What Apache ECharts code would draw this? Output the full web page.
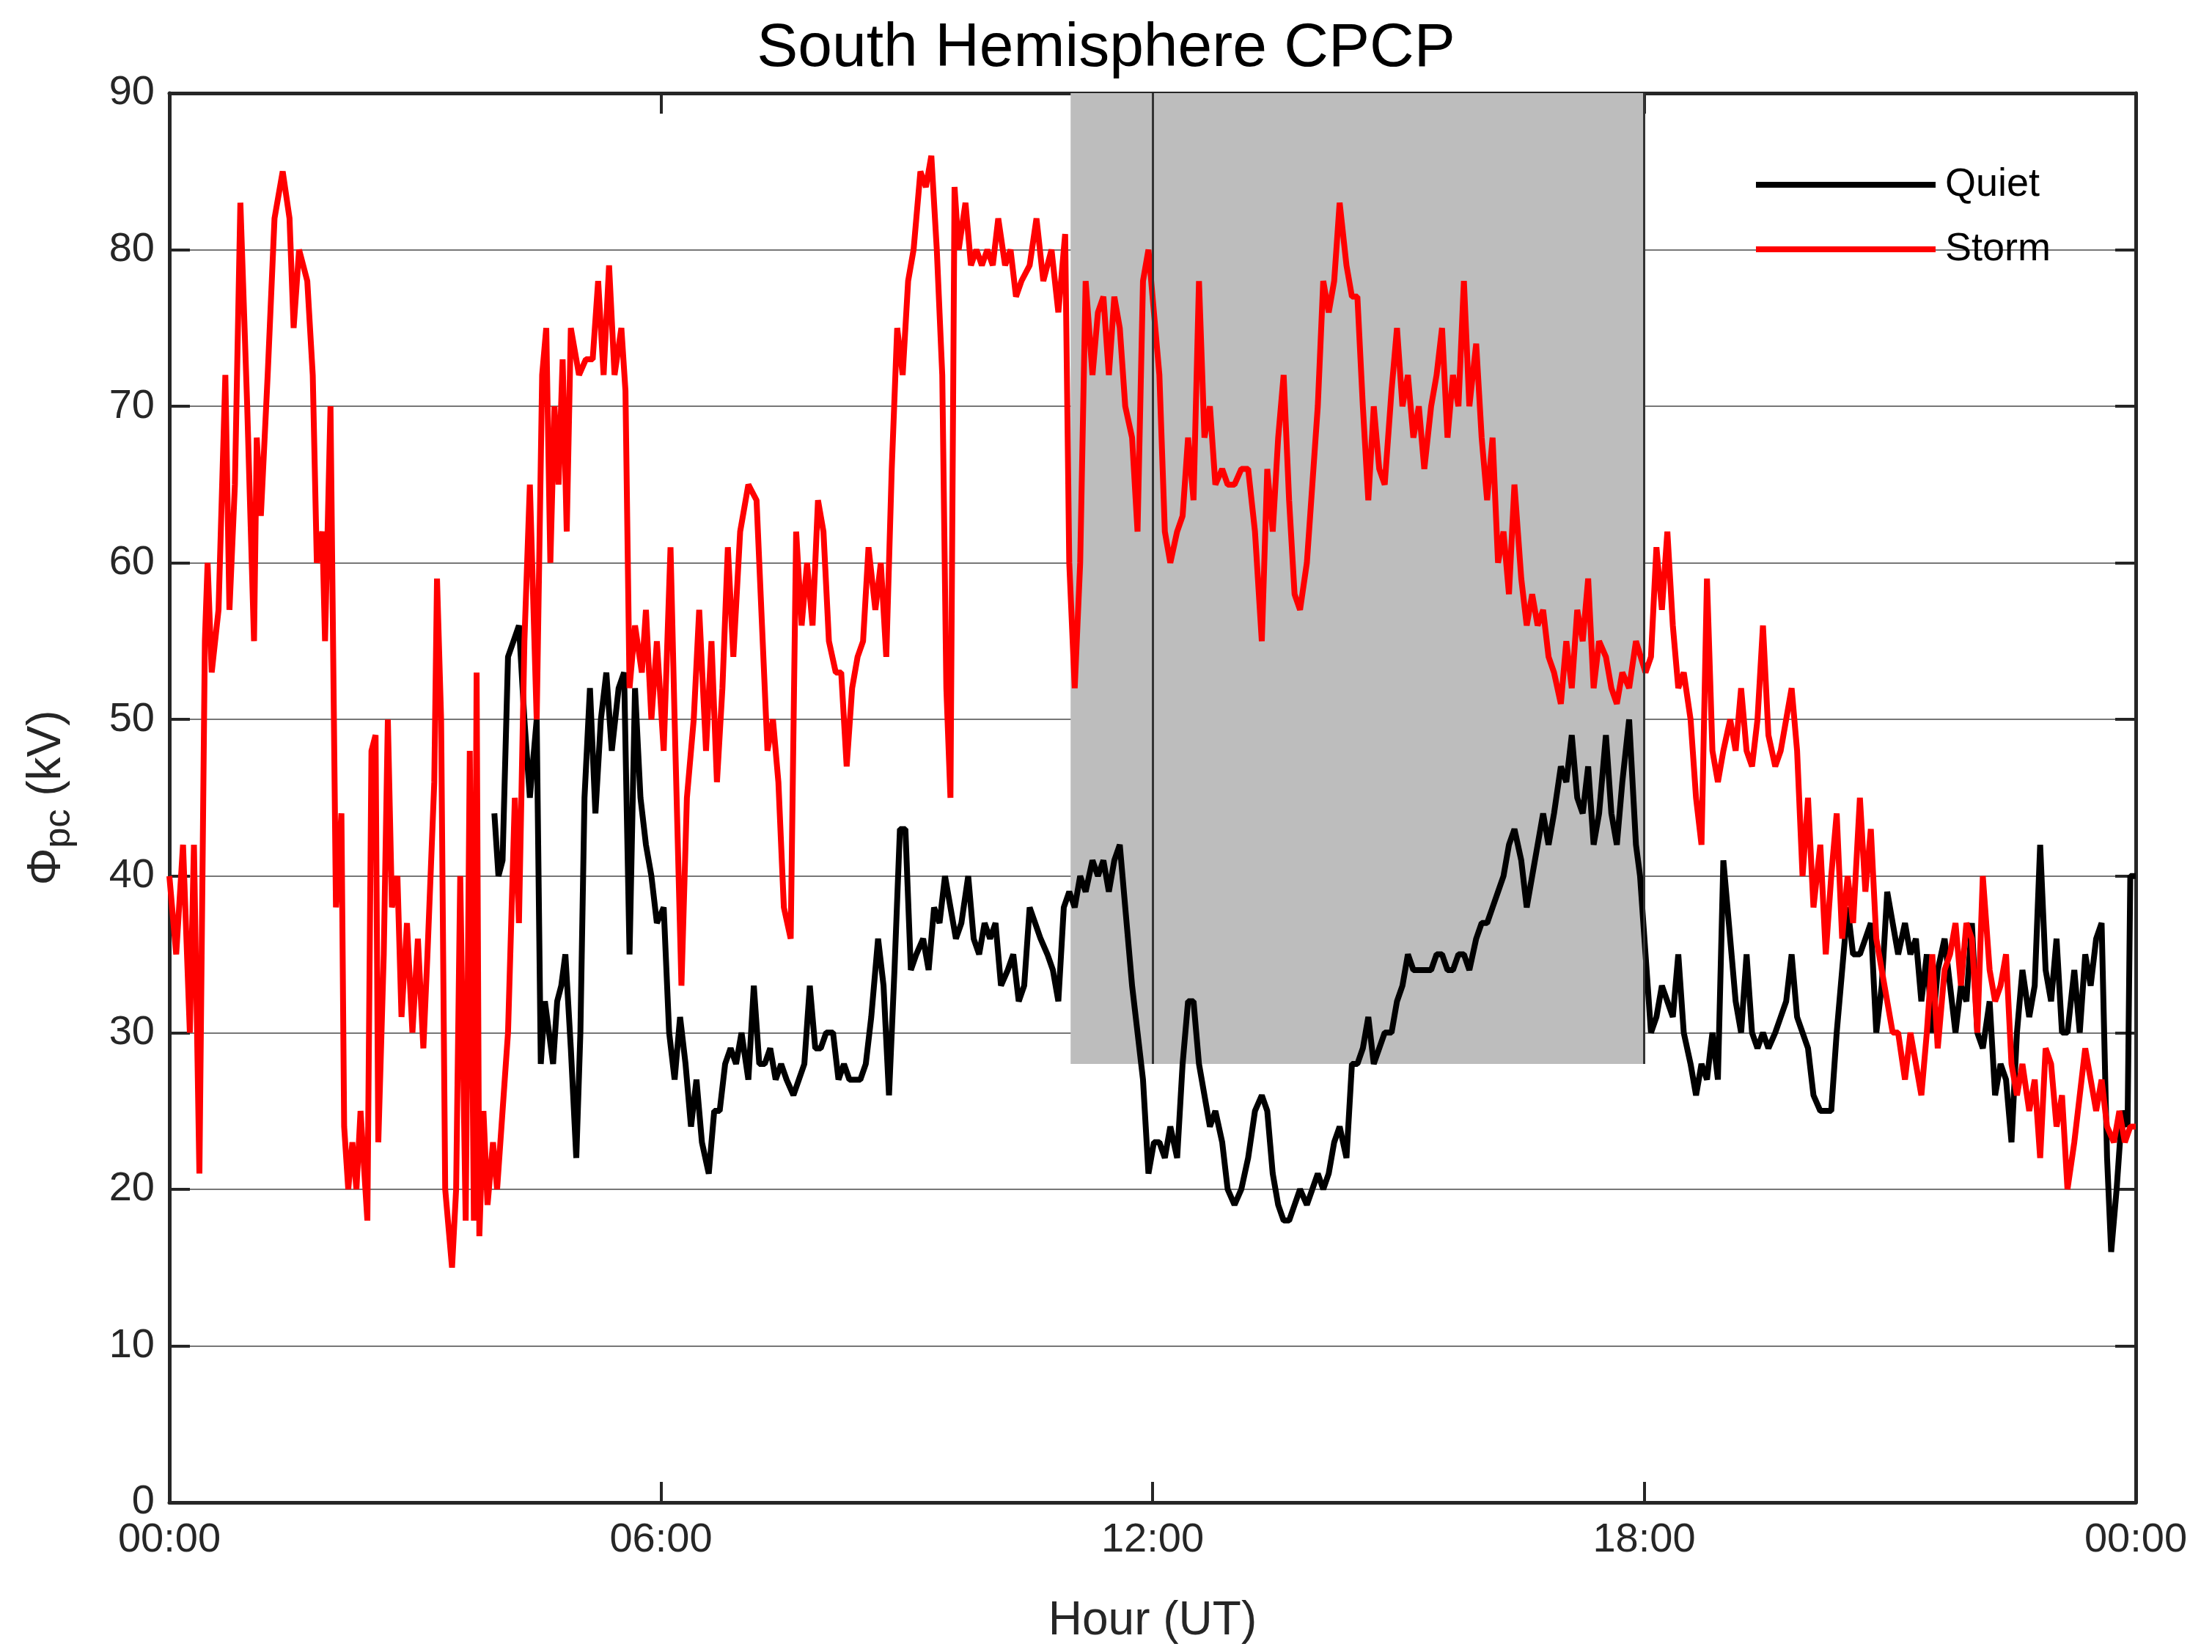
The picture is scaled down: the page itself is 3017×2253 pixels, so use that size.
<!DOCTYPE html>
<html><head><meta charset="utf-8">
<script src="https://cdn.jsdelivr.net/npm/echarts@6/dist/echarts.min.js"></script>
<style>html,body{margin:0;background:#fff}#c{width:3017px;height:2253px}</style>
</head><body><div id="c"></div>
<script>
const xTicks = [0, 360, 720, 1080, 1440];
const xTickLabels = ['00:00', '06:00', '12:00', '18:00', '00:00'];
const shadeStart = 660, shadeEnd = 1080, shadeBottom = 28;
const markLinesAt = [720, 1080];
const stormData = [[0,40],[5,35],[10,42],[15,30],[18,42],[22,21],[26,55],[28,60],[31,53],[36,57],[41,72],[44,57],[48,65],[52,83],[57,70],[62,55],[64,68],[67,63],[72,72],[77,82],[83,85],[88,82],[91,75],[95,80],[101,78],[105,72],[108,60],[112,62],[114,55],[118,70],[122,38],[126,44],[128,24],[131,20],[134,23],[137,20],[140,25],[145,18],[148,48],[151,49],[153,23],[157,35],[160,50],[163,38],[167,40],[170,31],[174,37],[178,30],[182,36],[186,29],[189,35],[194,46],[196,59],[199,50],[202,20],[207,15],[210,20],[213,40],[217,18],[220,48],[223,18],[225,53],[227,17],[230,25],[233,19],[237,23],[240,20],[244,25],[248,30],[253,45],[256,37],[260,55],[264,65],[269,50],[273,72],[276,75],[279,60],[282,70],[285,65],[288,73],[291,62],[294,75],[300,72],[305,73],[310,73],[314,78],[318,72],[322,79],[326,72],[331,75],[334,71],[337,52],[341,56],[346,53],[349,57],[353,50],[357,55],[362,48],[367,61],[370,50],[375,33],[379,45],[384,50],[388,57],[393,48],[397,55],[401,46],[405,52],[409,61],[413,54],[418,62],[424,65],[430,64],[434,56],[438,48],[442,50],[446,46],[450,38],[455,36],[459,62],[463,56],[467,60],[471,56],[475,64],[479,62],[483,55],[488,53],[492,53],[496,47],[500,52],[504,54],[508,55],[512,61],[517,57],[521,60],[525,54],[529,66],[533,75],[537,72],[541,78],[545,80],[550,85],[554,84],[558,86],[562,80],[566,72],[569,52],[572,45],[575,84],[578,80],[583,83],[587,79],[591,80],[595,79],[599,80],[603,79],[607,82],[612,79],[616,80],[620,77],[624,78],[630,79],[635,82],[640,78],[646,80],[651,76],[656,81],[659,60],[663,52],[667,60],[671,78],[676,72],[680,76],[684,77],[688,72],[692,77],[696,75],[700,70],[705,68],[709,62],[713,78],[717,80],[721,76],[725,72],[729,62],[733,60],[738,62],[742,63],[746,68],[750,64],[754,78],[758,68],[762,70],[766,65],[771,66],[775,65],[780,65],[785,66],[790,66],[795,62],[800,55],[804,66],[808,62],[812,68],[816,72],[820,64],[824,58],[828,57],[833,60],[837,65],[841,70],[845,78],[849,76],[853,78],[857,83],[862,79],[866,77],[870,77],[874,70],[878,64],[882,70],[886,66],[890,65],[895,71],[899,75],[903,70],[907,72],[911,68],[915,70],[919,66],[924,70],[928,72],[932,75],[936,68],[940,72],[944,70],[948,78],[952,70],[957,74],[961,68],[965,64],[969,68],[973,60],[977,62],[981,58],[985,65],[990,59],[994,56],[998,58],[1002,56],[1006,57],[1010,54],[1014,53],[1019,51],[1023,55],[1027,52],[1031,57],[1035,55],[1039,59],[1043,52],[1047,55],[1052,54],[1056,52],[1060,51],[1064,53],[1069,52],[1074,55],[1081,53],[1085,54],[1089,61],[1093,57],[1097,62],[1101,56],[1105,52],[1109,53],[1114,50],[1118,45],[1122,42],[1126,59],[1130,48],[1134,46],[1138,48],[1143,50],[1147,48],[1151,52],[1155,48],[1159,47],[1163,50],[1167,56],[1171,49],[1176,47],[1180,48],[1184,50],[1188,52],[1192,48],[1196,40],[1200,45],[1204,38],[1209,42],[1213,35],[1217,40],[1221,44],[1225,36],[1229,40],[1233,37],[1238,45],[1242,39],[1246,43],[1250,36],[1254,34],[1258,32],[1262,30],[1266,30],[1271,27],[1275,30],[1279,28],[1283,26],[1287,30],[1291,35],[1295,29],[1300,34],[1304,35],[1308,37],[1312,33],[1316,37],[1320,36],[1324,30],[1328,40],[1333,34],[1337,32],[1341,33],[1345,35],[1349,28],[1353,26],[1357,28],[1362,25],[1366,27],[1370,22],[1374,29],[1378,28],[1382,24],[1386,26],[1390,20],[1395,23],[1399,26],[1403,29],[1407,27],[1411,25],[1415,27],[1419,24],[1424,23],[1428,25],[1432,23],[1436,24],[1440,24]];
const quietData = [[238,44],[241,40],[244,41],[248,54],[252,55],[256,56],[260,50],[264,45],[269,50],[272,28],[275,32],[278,30],[281,28],[284,32],[287,33],[290,35],[294,29],[298,22],[301,30],[304,45],[308,52],[312,44],[316,50],[320,53],[324,48],[329,52],[333,53],[337,35],[341,52],[345,45],[349,42],[353,40],[357,37],[362,38],[366,30],[370,27],[374,31],[378,28],[382,24],[386,27],[390,23],[395,21],[399,25],[403,25],[407,28],[411,29],[415,28],[419,30],[424,27],[428,33],[432,28],[436,28],[440,29],[444,27],[448,28],[452,27],[457,26],[461,27],[465,28],[469,33],[473,29],[477,29],[481,30],[486,30],[490,27],[494,28],[498,27],[502,27],[506,27],[510,28],[514,31],[519,36],[523,33],[527,26],[531,34],[535,43],[539,43],[543,34],[547,35],[552,36],[556,34],[560,38],[564,37],[568,40],[572,38],[576,36],[580,37],[585,40],[589,36],[593,35],[597,37],[601,36],[605,37],[609,33],[614,34],[618,35],[622,32],[626,33],[630,38],[634,37],[638,36],[643,35],[647,34],[651,32],[655,38],[659,39],[663,38],[667,40],[671,39],[676,41],[680,40],[684,41],[688,39],[692,41],[696,42],[700,38],[705,33],[709,30],[713,27],[717,21],[721,23],[725,23],[729,22],[733,24],[738,22],[742,28],[746,32],[750,32],[754,28],[758,26],[762,24],[766,25],[771,23],[775,20],[780,19],[785,20],[790,22],[795,25],[800,26],[804,25],[808,21],[812,19],[816,18],[820,18],[824,19],[828,20],[833,19],[837,20],[841,21],[845,20],[849,21],[853,23],[857,24],[862,22],[866,28],[870,28],[874,29],[878,31],[882,28],[886,29],[890,30],[895,30],[899,32],[903,33],[907,35],[911,34],[915,34],[919,34],[924,34],[928,35],[932,35],[936,34],[940,34],[944,35],[948,35],[952,34],[957,36],[961,37],[965,37],[969,38],[973,39],[977,40],[981,42],[985,43],[990,41],[994,38],[998,40],[1002,42],[1006,44],[1010,42],[1014,44],[1019,47],[1023,46],[1027,49],[1031,45],[1035,44],[1039,47],[1043,42],[1047,44],[1052,49],[1056,44],[1060,42],[1064,46],[1069,50],[1074,42],[1077,40],[1081,35],[1085,30],[1089,31],[1093,33],[1097,32],[1101,31],[1105,35],[1109,30],[1114,28],[1118,26],[1122,28],[1126,27],[1130,30],[1134,27],[1138,41],[1143,36],[1147,32],[1151,30],[1155,35],[1159,30],[1163,29],[1167,30],[1171,29],[1176,30],[1180,31],[1184,32],[1188,35],[1192,31],[1196,30],[1200,29],[1204,26],[1209,25],[1213,25],[1217,25],[1221,30],[1225,34],[1229,38],[1233,35],[1238,35],[1242,36],[1246,37],[1250,30],[1254,33],[1258,39],[1262,37],[1266,35],[1271,37],[1275,35],[1279,36],[1283,32],[1287,35],[1291,30],[1295,34],[1300,36],[1304,33],[1308,30],[1312,33],[1316,32],[1320,37],[1324,30],[1328,29],[1333,32],[1337,26],[1341,28],[1345,27],[1349,23],[1353,30],[1357,34],[1362,31],[1366,33],[1370,42],[1374,34],[1378,32],[1382,36],[1386,30],[1390,30],[1395,34],[1399,30],[1403,35],[1407,33],[1411,36],[1415,37],[1419,22],[1422,16],[1426,20],[1430,25],[1434,24],[1436,40],[1440,40]];

const F = 'Arial, "Liberation Sans", sans-serif';
const chart = echarts.init(document.getElementById('c'));
const fmt = v => { const i = xTicks.indexOf(v); return i >= 0 ? xTickLabels[i] : ''; };
const tick = () => ({ show: true, inside: true, length: 28, lineStyle: { color: '#262626', width: 4 } });
const line = () => ({ show: true, onZero: false, lineStyle: { color: '#262626', width: 5 } });
chart.setOption({
  animation: false,
  backgroundColor: '#fff',
  title: { text: 'South Hemisphere CPCP', left: 'center', top: 20,
    textStyle: { fontFamily: F, fontSize: 84, fontWeight: 'normal', color: '#000' } },
  legend: { right: 215, top: 220, orient: 'vertical', itemWidth: 245, itemHeight: 8, itemGap: 34,
    icon: 'rect', textStyle: { fontFamily: F, fontSize: 54, color: '#000', padding: [0, 0, 0, 8] },
    data: ['Quiet', 'Storm'] },
  grid: { left: 231, right: 104, top: 127, bottom: 204 },
  xAxis: [
    { type: 'value', min: 0, max: 1440, interval: 360, position: 'bottom',
      name: 'Hour (UT)', nameLocation: 'middle', nameGap: 130,
      nameTextStyle: { fontFamily: F, fontSize: 64, color: '#262626' },
      axisLine: line(), axisTick: tick(),
      axisLabel: { formatter: fmt, fontFamily: F, fontSize: 56, color: '#262626', margin: 24 },
      splitLine: { show: false } },
    { type: 'value', min: 0, max: 1440, interval: 360, position: 'top',
      axisLine: line(), axisTick: tick(), axisLabel: { show: false }, splitLine: { show: false } }
  ],
  yAxis: [
    { type: 'value', min: 0, max: 90, interval: 10, position: 'left',
      name: '{a|Φ}{s|pc}{a| (kV)}', nameLocation: 'middle', nameGap: 125, nameRotate: 90,
      nameTextStyle: { rich: { a: { fontFamily: F, fontSize: 64, color: '#262626' },
        s: { fontFamily: F, fontSize: 50, color: '#262626', verticalAlign: 'bottom', padding: [34, 0, 0, 0] } } },
      axisLine: line(), axisTick: tick(),
      axisLabel: { fontFamily: F, fontSize: 56, color: '#262626', margin: 20 },
      splitLine: { show: true, lineStyle: { color: '#777', width: 2 } } },
    { type: 'value', min: 0, max: 90, interval: 10, position: 'right',
      axisLine: line(), axisTick: tick(), axisLabel: { show: false }, splitLine: { show: false } }
  ],
  series: [
    { name: 'Shade', type: 'line', data: [], silent: true, z: 1,
      markArea: { silent: true, itemStyle: { color: '#bdbdbd' },
        data: [[{ coord: [shadeStart, shadeBottom] }, { coord: [shadeEnd, 90] }]] },
      markLine: { silent: true, symbol: 'none', label: { show: false },
        lineStyle: { color: '#333', width: 3, type: 'solid' },
        data: markLinesAt.map(t => [{ coord: [t, shadeBottom] }, { coord: [t, 90] }]) } },
    { name: 'Quiet', type: 'line', data: quietData, showSymbol: false, z: 3,
      lineStyle: { color: '#000', width: 8 }, itemStyle: { color: '#000' } },
    { name: 'Storm', type: 'line', data: stormData, showSymbol: false, z: 4,
      lineStyle: { color: '#f00', width: 8 }, itemStyle: { color: '#f00' } }
  ]
});
</script></body></html>
